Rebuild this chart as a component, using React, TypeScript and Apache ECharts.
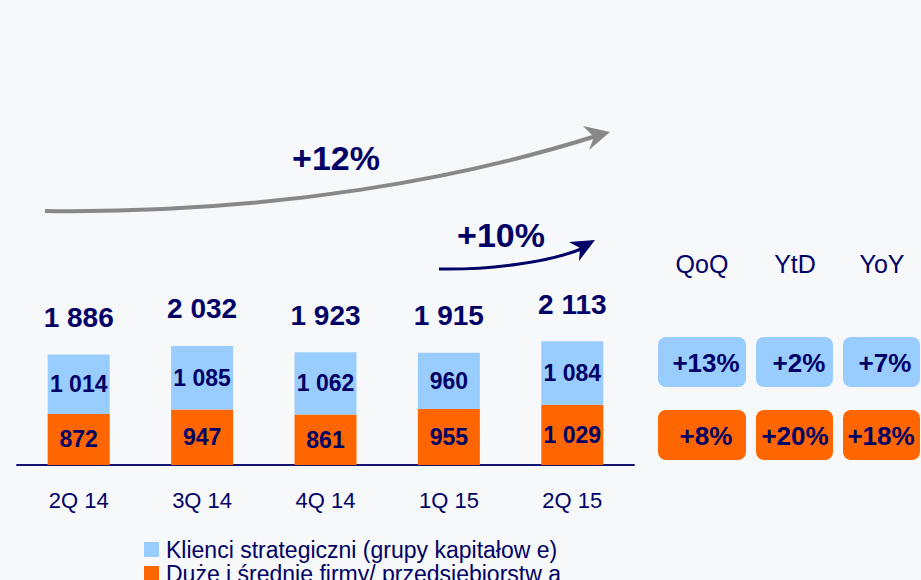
import React, { useEffect, useRef } from "react";
import * as echarts from "echarts";

const categories = ["2Q 14", "3Q 14", "4Q 14", "1Q 15", "2Q 15"];
const strategicValues = [1014, 1085, 1062, 960, 1084];
const corporateValues = [872, 947, 861, 955, 1029];
const seriesNames = [
  "Klienci strategiczni (grupy kapitałow e)",
  "Duże i średnie firmy/ przedsiębiorstw a",
];
const changeHeaders = ["QoQ", "YtD", "YoY"];
const strategicChanges = ["+13%", "+2%", "+7%"];
const corporateChanges = ["+8%", "+20%", "+18%"];
const totalGrowth = "+12%";
const corporateGrowth = "+10%";

const NAVY = "#000066";
const BLUE = "#99CCFF";
const ORANGE = "#FF6600";
const GRAY = "#888888";
const BG = "#F7F8FA";
const FONT = "'Liberation Sans', Arial, sans-serif";

const fmt = (v: number) => String(v).replace(/\B(?=(\d{3})+(?!\d))/g, " ");

export default function App() {
  const ref = useRef<HTMLDivElement>(null);

  useEffect(() => {
    if (!ref.current) return;
    const chart = echarts.init(ref.current, null, { renderer: "svg" });
    const totals = strategicValues.map((v, i) => v + corporateValues[i]);

    const boxX = [658, 756, 843];
    const boxW = [88, 77, 77];
    const headerX = [702, 795, 882];
    const topTextX = [706, 799, 885];
    const botTextX = [706, 795, 881];

    const graphics: any[] = [
      {
        type: "bezierCurve",
        shape: { x1: 45, y1: 211, cpx1: 280, cpy1: 214, cpx2: 470, cpy2: 176, x2: 596, y2: 136 },
        style: { stroke: GRAY, lineWidth: 4, fill: "none" },
      },
      {
        type: "polygon",
        shape: { points: [[610, 132], [583, 126], [594, 137], [589, 150]] },
        style: { fill: GRAY },
      },
      {
        type: "bezierCurve",
        shape: { x1: 439, y1: 269, cpx1: 490, cpy1: 270, cpx2: 550, cpy2: 262, x2: 581, y2: 249 },
        style: { stroke: NAVY, lineWidth: 3, fill: "none" },
      },
      {
        type: "polygon",
        shape: { points: [[595, 240], [569, 242], [580, 248], [579, 261]] },
        style: { fill: NAVY },
      },
      {
        type: "text",
        style: {
          text: totalGrowth, x: 336, y: 158, fill: NAVY, fontSize: 34, fontWeight: "bold",
          fontFamily: FONT, align: "center", verticalAlign: "middle",
        },
      },
      {
        type: "text",
        style: {
          text: corporateGrowth, x: 501, y: 235, fill: NAVY, fontSize: 34, fontWeight: "bold",
          fontFamily: FONT, align: "center", verticalAlign: "middle",
        },
      },
    ];

    changeHeaders.forEach((h, i) => {
      graphics.push({
        type: "text",
        style: {
          text: h, x: headerX[i], y: 264, fill: NAVY, fontSize: 25,
          fontFamily: FONT, align: "center", verticalAlign: "middle",
        },
      });
      graphics.push({
        type: "rect",
        shape: { x: boxX[i], y: 337, width: boxW[i], height: 50, r: 8 },
        style: { fill: BLUE },
      });
      graphics.push({
        type: "rect",
        shape: { x: boxX[i], y: 410, width: boxW[i], height: 50, r: 8 },
        style: { fill: ORANGE },
      });
      graphics.push({
        type: "text",
        style: {
          text: strategicChanges[i], x: topTextX[i], y: 363, fill: NAVY, fontSize: 26,
          fontWeight: "bold", fontFamily: FONT, align: "center", verticalAlign: "middle",
        },
      });
      graphics.push({
        type: "text",
        style: {
          text: corporateChanges[i], x: botTextX[i], y: 436, fill: NAVY, fontSize: 26,
          fontWeight: "bold", fontFamily: FONT, align: "center", verticalAlign: "middle",
        },
      });
    });

    const insideLabel = {
      show: true,
      position: "inside",
      color: NAVY,
      fontSize: 23,
      fontWeight: "bold",
      fontFamily: FONT,
      formatter: (p: any) => fmt(p.value),
    };

    const legendBase = {
      orient: "horizontal",
      left: 144,
      padding: 0,
      itemWidth: 15,
      itemHeight: 15,
      icon: "rect",
      selectedMode: false,
      textStyle: {
        color: NAVY,
        fontSize: 23,
        fontFamily: FONT,
        lineHeight: 15,
        padding: [0, 0, 0, 2],
      },
    };

    chart.setOption({
      animation: false,
      backgroundColor: BG,
      grid: { left: 17, right: 287, top: 172, bottom: 115 },
      legend: [
        { ...legendBase, top: 538, data: [seriesNames[0]] },
        { ...legendBase, top: 562, data: [seriesNames[1]] },
      ],
      xAxis: {
        type: "category",
        data: categories,
        axisLine: { lineStyle: { color: "#141470", width: 2 } },
        axisTick: { show: false },
        axisLabel: { color: NAVY, fontSize: 22, fontFamily: FONT, margin: 24 },
      },
      yAxis: { type: "value", min: 0, max: 5000, show: false, splitLine: { show: false } },
      series: [
        {
          name: seriesNames[1],
          type: "bar",
          stack: "total",
          barWidth: 62,
          itemStyle: { color: ORANGE },
          label: insideLabel,
          data: corporateValues,
        },
        {
          name: seriesNames[0],
          type: "bar",
          stack: "total",
          barWidth: 62,
          itemStyle: { color: BLUE },
          label: insideLabel,
          data: strategicValues,
        },
        {
          name: "Razem",
          type: "bar",
          stack: "total",
          barWidth: 62,
          itemStyle: { color: "transparent" },
          label: {
            show: true,
            position: "top",
            distance: 23,
            color: NAVY,
            fontSize: 28,
            fontWeight: "bold",
            fontFamily: FONT,
            formatter: (p: any) => fmt(totals[p.dataIndex]),
          },
          data: totals.map(() => 0),
        },
      ],
      graphic: graphics,
    });

    return () => chart.dispose();
  }, []);

  return (
    <div
      ref={ref}
      style={{ position: "fixed", left: 0, top: 0, width: 921, height: 580, background: BG }}
    />
  );
}
